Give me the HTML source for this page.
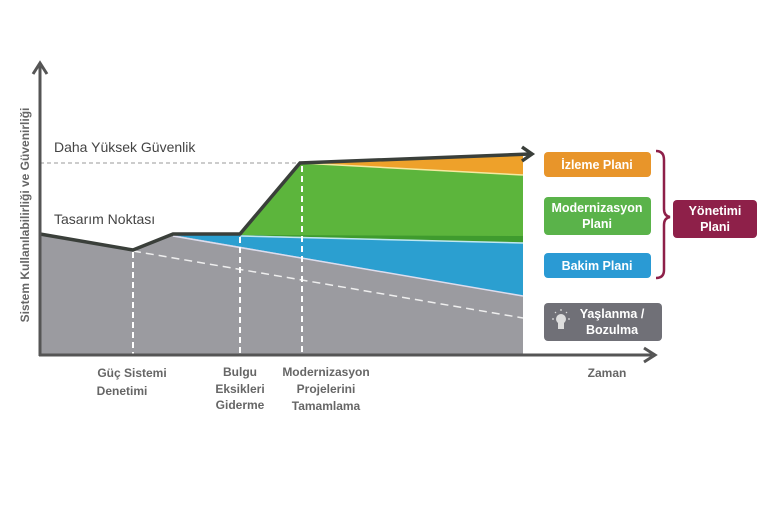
<!DOCTYPE html>
<html><head><meta charset="utf-8"><style>
body{margin:0;background:#fff;width:768px;height:512px;overflow:hidden}
svg{display:block}
text{font-family:"Liberation Sans",sans-serif}
.b{font-weight:bold;fill:#666;font-size:12px}
.bx{font-weight:bold;fill:#fff;font-size:12.5px}
</style></head><body>
<svg width="768" height="512" viewBox="0 0 768 512">
<polygon points="40,234 133,250 173,235 523,296 523,355 40,355" fill="#9b9ba0"/>
<polygon points="173,235 240,235 523,243 523,296" fill="#2b9fd0"/>
<polygon points="240,235 300,163 523,175 523,243" fill="#5cb53c"/>
<polygon points="240,235 523,236 523,243" fill="#3f9b2e"/>
<polygon points="300,163 523,155 523,175" fill="#eea12a"/>
<line x1="300" y1="163" x2="523" y2="175" stroke="#f6e9a0" stroke-width="1.5"/>
<line x1="240" y1="236" x2="523" y2="243" stroke="#bfe7f0" stroke-width="1.5"/>
<line x1="173" y1="236" x2="523" y2="296" stroke="#dde" stroke-width="1.5"/>
<line x1="133" y1="251" x2="523" y2="318" stroke="#eee" stroke-width="1.5" stroke-dasharray="8,5"/>
<g stroke="#fff" stroke-width="2" stroke-dasharray="6,4">
<line x1="133" y1="252" x2="133" y2="354"/><line x1="240" y1="237" x2="240" y2="354"/><line x1="302" y1="166" x2="302" y2="354"/></g>
<line x1="40" y1="163" x2="300" y2="163" stroke="#999" stroke-width="1" stroke-dasharray="4,3"/>
<polyline points="40,234 133,250 173,234 240,234 300,163 530,154" fill="none" stroke="#3a3f3a" stroke-width="3.5"/>
<polyline points="522,147 532,154 522,161" fill="none" stroke="#3a3f3a" stroke-width="3.5"/>
<line x1="40" y1="356" x2="40" y2="66" stroke="#555" stroke-width="3"/>
<polyline points="33,74 40,63 47,74" fill="none" stroke="#555" stroke-width="3"/>
<line x1="39" y1="355" x2="652" y2="355" stroke="#555" stroke-width="3"/>
<polyline points="644,348 655,355 644,362" fill="none" stroke="#555" stroke-width="3"/>
<text x="54" y="152" font-size="14" fill="#444">Daha Yüksek Güvenlik</text>
<text x="54" y="224" font-size="14" fill="#444">Tasarım Noktası</text>
<text transform="translate(29,215) rotate(-90)" text-anchor="middle" font-size="12" font-weight="bold" fill="#666">Sistem Kullanılabilirliği ve Güvenirliği</text>
<g text-anchor="middle" class="b">
<text class="b" x="132" y="377">Güç Sistemi</text><text class="b" x="122" y="395">Denetimi</text>
<text class="b" x="240" y="376">Bulgu</text><text class="b" x="240" y="393">Eksikleri</text><text class="b" x="240" y="409">Giderme</text>
<text class="b" x="326" y="376">Modernizasyon</text><text class="b" x="326" y="393">Projelerini</text><text class="b" x="326" y="410">Tamamlama</text>
<text class="b" x="607" y="377">Zaman</text>
</g>
<rect x="544" y="152" width="107" height="25" rx="4" fill="#e8952a"/>
<rect x="544" y="197" width="107" height="38" rx="4" fill="#5ab34a"/>
<rect x="544" y="253" width="107" height="25" rx="4" fill="#2a9ad4"/>
<rect x="544" y="303" width="118" height="38" rx="4" fill="#707077"/>
<rect x="673" y="200" width="84" height="38" rx="4" fill="#8e2049"/>
<g text-anchor="middle">
<text class="bx" x="597" y="169">İzleme Plani</text>
<text class="bx" x="597" y="212">Modernizasyon</text><text class="bx" x="597" y="228">Plani</text>
<text class="bx" x="597" y="270">Bakim Plani</text>
<text class="bx" x="612" y="318">Yaşlanma /</text><text class="bx" x="612" y="334">Bozulma</text>
<text class="bx" x="715" y="215">Yönetimi</text><text class="bx" x="715" y="231">Plani</text>
</g>
<circle cx="561" cy="319" r="5" fill="#ddd"/>
<rect x="558" y="323" width="6" height="6" fill="#ddd"/>
<g stroke="#ddd" stroke-width="1.2"><line x1="561" y1="309" x2="561" y2="311"/><line x1="552" y1="319" x2="554" y2="319"/><line x1="568" y1="319" x2="570" y2="319"/><line x1="555" y1="312" x2="556" y2="313"/><line x1="567" y1="312" x2="566" y2="313"/></g>
<path d="M656,151 Q664,151 664,160 L664,209 Q664,216 670,217 Q664,218 664,225 L664,270 Q664,278 656,278" fill="none" stroke="#8e2049" stroke-width="2.5"/>
</svg>
</body></html>
